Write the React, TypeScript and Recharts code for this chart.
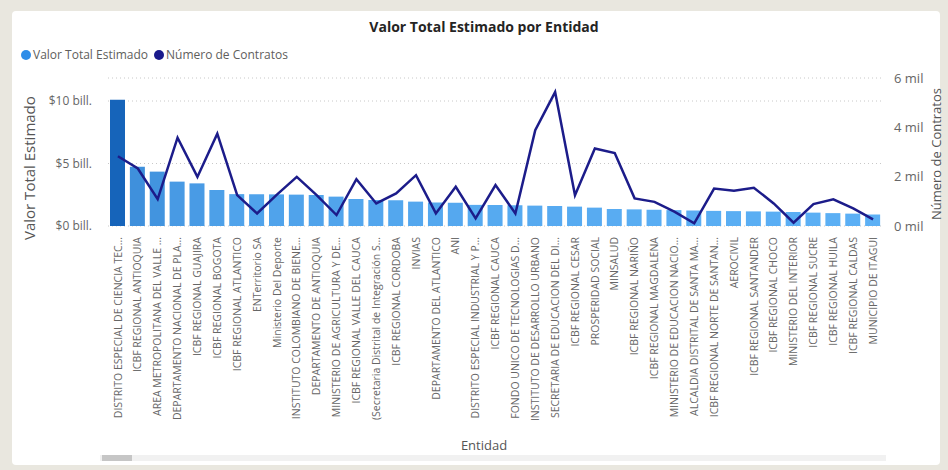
import React from "react";
import {
  ComposedChart,
  Bar,
  Line,
  XAxis,
  YAxis,
  CartesianGrid,
  Cell,
} from "recharts";

const entidades = [
  "DISTRITO ESPECIAL DE CIENCIA TEC...",
  "ICBF REGIONAL ANTIOQUIA",
  "AREA METROPOLITANA DEL VALLE ...",
  "DEPARTAMENTO NACIONAL DE PLA...",
  "ICBF REGIONAL GUAJIRA",
  "ICBF REGIONAL BOGOTA",
  "ICBF REGIONAL ATLANTICO",
  "ENTerritorio SA",
  "Ministerio Del Deporte",
  "INSTITUTO COLOMBIANO DE BIENE...",
  "DEPARTAMENTO DE ANTIOQUIA",
  "MINISTERIO DE AGRICULTURA Y DE...",
  "ICBF REGIONAL VALLE DEL CAUCA",
  "(Secretaria Distrital de Integración S...",
  "ICBF REGIONAL CORDOBA",
  "INVIAS",
  "DEPARTAMENTO DEL ATLANTICO",
  "ANI",
  "DISTRITO ESPECIAL INDUSTRIAL Y P...",
  "ICBF REGIONAL CAUCA",
  "FONDO UNICO DE TECNOLOGIAS D...",
  "INSTITUTO DE DESARROLLO URBANO",
  "SECRETARIA DE EDUCACION DEL DI...",
  "ICBF REGIONAL CESAR",
  "PROSPERIDAD SOCIAL",
  "MINSALUD",
  "ICBF REGIONAL NARIÑO",
  "ICBF REGIONAL MAGDALENA",
  "MINISTERIO DE EDUCACION NACIO...",
  "ALCALDIA DISTRITAL DE SANTA MA...",
  "ICBF REGIONAL NORTE DE SANTAN...",
  "AEROCIVIL",
  "ICBF REGIONAL SANTANDER",
  "ICBF REGIONAL CHOCO",
  "MINISTERIO DEL INTERIOR",
  "ICBF REGIONAL SUCRE",
  "ICBF REGIONAL HUILA",
  "ICBF REGIONAL CALDAS",
  "MUNICIPIO DE ITAGUI",
];

// billones de pesos
const valorTotal = [
  10.1, 4.74, 4.35, 3.55, 3.41, 2.88, 2.55, 2.54, 2.53, 2.51, 2.48, 2.35, 2.16,
  2.08, 2.06, 1.95, 1.88, 1.86, 1.69, 1.68, 1.66, 1.63, 1.6, 1.55, 1.47, 1.36,
  1.33, 1.3, 1.27, 1.24, 1.21, 1.19, 1.17, 1.15, 1.12, 1.07, 1.03, 0.99, 0.92,
];

const numContratos = [
  2830, 2330, 1090, 3580, 1990, 3745, 1250, 510, 1270, 1990, 1250, 445, 1900,
  915, 1320, 2060, 510, 1590, 310, 1660, 510, 3880, 5430, 1250, 3140, 2960,
  1120, 980, 580, 110, 1520, 1430, 1550, 915, 135, 890, 1080, 715, 270,
];

const leftTicks = [0, 5, 10];
const rightTicks = [0, 2000, 4000, 6000];

const data = entidades.map((e, i) => ({
  entidad: e,
  valor: valorTotal[i],
  contratos: numContratos[i],
}));

const vMin = Math.min(...valorTotal);
const vMax = Math.max(...valorTotal);
const light = [92, 176, 245];
const dark = [22, 100, 186];
function barColor(v: number) {
  const t = (v - vMin) / (vMax - vMin);
  const c = light.map((l, k) => Math.round(l + (dark[k] - l) * t));
  return `rgb(${c[0]},${c[1]},${c[2]})`;
}

const font = "'Open Sans', 'Noto Sans', sans-serif";

const XTick = ({ x, y, payload }: any) => (
  <text
    transform={`translate(${x},${y}) rotate(-90)`}
    textAnchor="end"
    dy="0.35em"
    fontSize={10.5}
    fill="#666"
    fontFamily={font}
  >
    {payload.value}
  </text>
);

const dot = (color: string) => (
  <span
    style={{
      width: 10,
      height: 10,
      borderRadius: 5,
      background: color,
      display: "inline-block",
      marginRight: 2,
    }}
  />
);

export default function App() {
  return (
    <div
      style={{
        position: "absolute",
        left: 0,
        top: 0,
        width: 948,
        height: 470,
        background: "#e9e7df",
        fontFamily: font,
      }}
    >
      <div
        style={{
          position: "absolute",
          left: 12,
          top: 11,
          width: 928,
          height: 454,
          background: "#fff",
          borderRadius: 4,
        }}
      />
      <div
        style={{
          position: "absolute",
          left: 0,
          width: 968,
          top: 17,
          textAlign: "center",
          fontSize: 14,
          fontWeight: 700,
          color: "#252423",
        }}
      >
        Valor Total Estimado por Entidad
      </div>
      <div
        style={{
          position: "absolute",
          left: 21,
          top: 46,
          fontSize: 12,
          color: "#605e5c",
          display: "flex",
          alignItems: "center",
        }}
      >
        {dot("#2e8de8")}
        <span style={{ marginRight: 6 }}>Valor Total Estimado</span>
        {dot("#1a1a8c")}
        <span>Número de Contratos</span>
      </div>
      <div
        style={{
          position: "absolute",
          left: 0,
          width: 968,
          top: 436,
          textAlign: "center",
          fontSize: 13,
          color: "#555",
        }}
      >
        Entidad
      </div>
      <div style={{ position: "absolute", left: 100, top: 455, width: 786, height: 6, background: "#f1f1f1" }} />
      <div style={{ position: "absolute", left: 102, top: 455, width: 30, height: 6, background: "#c6c6c6" }} />
      <div style={{ position: "absolute", left: 0, top: 0 }}>
        <ComposedChart
          width={948}
          height={470}
          data={data}
          margin={{ top: 78, right: 15, left: 20, bottom: 34 }}
        >
          <CartesianGrid
            yAxisId="left"
            vertical={false}
            stroke="#c8c8c8"
            strokeDasharray="1 3"
          />
          <XAxis
            dataKey="entidad"
            interval={0}
            height={210}
            tick={<XTick />}
            tickLine={false}
            axisLine={false}
            tickMargin={5}
          />
          <YAxis
            yAxisId="left"
            width={88}
            domain={[0, 11.84]}
            ticks={leftTicks}
            tickFormatter={(v: number) => `$${v} bill.`}
            tick={{ fontSize: 12, fill: "#666", fontFamily: font }}
            tickLine={false}
            axisLine={false}
            tickMargin={10}
            label={{
              value: "Valor Total Estimado",
              angle: -90,
              position: "insideLeft",
              offset: 10,
              dy: 88,
              style: { fontSize: 15, fill: "#555", fontFamily: font },
            }}
          />
          <YAxis
            yAxisId="right"
            orientation="right"
            width={50}
            domain={[0, 6000]}
            ticks={rightTicks}
            tickFormatter={(v: number) => `${v / 1000} mil`}
            tick={{ fontSize: 13, fill: "#666", fontFamily: font }}
            tickLine={false}
            axisLine={false}
            tickMargin={5}
            label={{
              value: "Número de Contratos",
              angle: -90,
              position: "insideRight",
              offset: -3,
              dy: -64,
              style: { fontSize: 13, fill: "#555", fontFamily: font },
            }}
          />
          <Bar yAxisId="left" dataKey="valor" barSize={15} isAnimationActive={false}>
            {data.map((d) => (
              <Cell key={d.entidad} fill={barColor(d.valor)} />
            ))}
          </Bar>
          <Line
            yAxisId="right"
            dataKey="contratos"
            type="linear"
            stroke="#1c1c8a"
            strokeWidth={2.5}
            dot={false}
            isAnimationActive={false}
          />
        </ComposedChart>
      </div>
    </div>
  );
}
